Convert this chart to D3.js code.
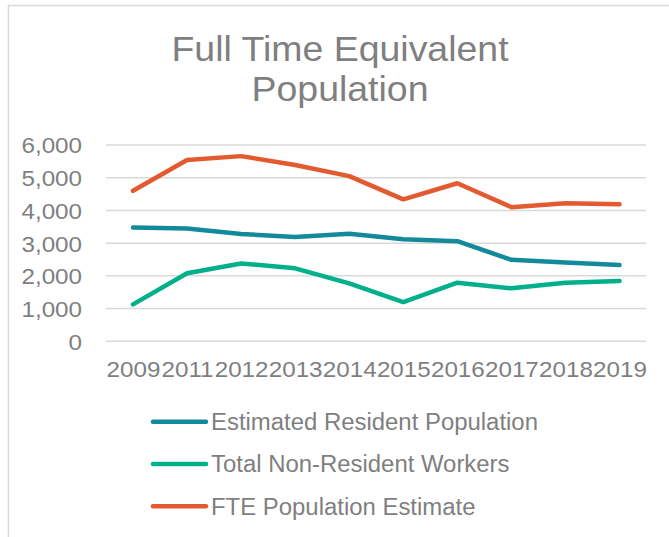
<!DOCTYPE html>
<html>
<head>
<meta charset="UTF-8">
<script src="https://d3js.org/d3.v7.min.js"></script>
<style>
  * { margin: 0; padding: 0; box-sizing: border-box; }
  html, body { width: 669px; height: 537px; background: #fff; overflow: hidden; }
  svg { display: block; font-family: "Liberation Sans", Arial, sans-serif; }
</style>
</head>
<body>
<div id="chart"></div>
<script>
// --- data ---
var years = ["2009", "2011", "2012", "2013", "2014", "2015", "2016", "2017", "2018", "2019"];
var residentPop = [3480, 3450, 3280, 3190, 3290, 3120, 3060, 2490, 2410, 2330];
var nonResidentWorkers = [1130, 2080, 2380, 2230, 1770, 1200, 1790, 1620, 1790, 1840];
var ftePop = [4600, 5540, 5660, 5390, 5050, 4340, 4830, 4100, 4220, 4190];
var yTicks = [0, 1000, 2000, 3000, 4000, 5000, 6000];
var titleLines = ["Full Time Equivalent", "Population"];

var series = [
  { name: "Estimated Resident Population", values: residentPop, color: "#138a9c" },
  { name: "Total Non-Resident Workers", values: nonResidentWorkers, color: "#00b08a" },
  { name: "FTE Population Estimate", values: ftePop, color: "#e35a31" }
];

var W = 669, H = 537;
var textGray = "#7f7f7f";
var gridGray = "#d9d9d9";
var FONT = "'Liberation Sans', Arial, sans-serif";

var svg = d3.select("#chart").append("svg")
  .attr("width", W).attr("height", H);

// outer chart border (only top/left visible in the crop)
svg.append("path")
  .attr("d", "M8.5," + H + "V5.5H" + W)
  .attr("fill", "none")
  .attr("stroke", gridGray)
  .attr("stroke-width", 1.5);

// title
svg.append("g").selectAll("text")
  .data(titleLines)
  .enter().append("text")
  .attr("x", 0)
  .attr("y", function(d, i) { return 61 + i * 40; })
  .attr("text-anchor", "middle")
  .attr("font-size", "35px")
  .attr("fill", textGray)
  .attr("transform", "translate(340,0) scale(1.07,1)")
  .text(function(d) { return d; });

var x = d3.scalePoint().domain(years).range([133, 619.5]);
var y = d3.scaleLinear().domain([0, 6000]).range([341.3, 145]);

// gridlines
svg.append("g").selectAll("line")
  .data(yTicks)
  .enter().append("line")
  .attr("x1", 106).attr("x2", 646)
  .attr("y1", function(d) { return y(d); })
  .attr("y2", function(d) { return y(d); })
  .attr("stroke", gridGray)
  .attr("stroke-width", 1.5);

// y axis labels
var yAxis = d3.axisLeft(y).tickValues(yTicks).tickFormat(d3.format(",")).tickSize(0).tickPadding(0);
var yg = svg.append("g").attr("transform", "translate(82,0)").call(yAxis);
yg.select(".domain").remove();
yg.selectAll("text")
  .attr("font-size", "22px")
  .attr("font-family", FONT)
  .attr("fill", textGray)
  .attr("dy", "0.36em")
  .attr("x", 0)
  .attr("transform", "scale(1.1,1)");

// x axis labels
var xAxis = d3.axisBottom(x).tickSize(0).tickPadding(0);
var xg = svg.append("g").attr("transform", "translate(0,361)").call(xAxis);
xg.select(".domain").remove();
xg.selectAll("text")
  .attr("font-size", "22px")
  .attr("font-family", FONT)
  .attr("fill", textGray)
  .attr("dy", "0.74em")
  .attr("transform", "scale(1.1,1)");

// lines
var line = d3.line()
  .x(function(d, i) { return x(years[i]); })
  .y(function(d) { return y(d); });

svg.append("g").selectAll("path")
  .data(series)
  .enter().append("path")
  .attr("fill", "none")
  .attr("stroke", function(d) { return d.color; })
  .attr("stroke-width", 4.5)
  .attr("stroke-linejoin", "round")
  .attr("stroke-linecap", "round")
  .attr("d", function(d) { return line(d.values); });

// legend
var lg = svg.append("g").selectAll("g")
  .data(series)
  .enter().append("g")
  .attr("transform", function(d, i) { return "translate(0," + (421.7 + i * 42.3) + ")"; });

lg.append("line")
  .attr("x1", 153).attr("x2", 206)
  .attr("stroke", function(d) { return d.color; })
  .attr("stroke-width", 4.5)
  .attr("stroke-linecap", "round");

lg.append("text")
  .attr("x", 0)
  .attr("dy", "0.36em")
  .attr("font-size", "23px")
  .attr("fill", textGray)
  .attr("transform", "translate(211,0) scale(1.04,1)")
  .text(function(d) { return d.name; });
</script>
</body>
</html>
